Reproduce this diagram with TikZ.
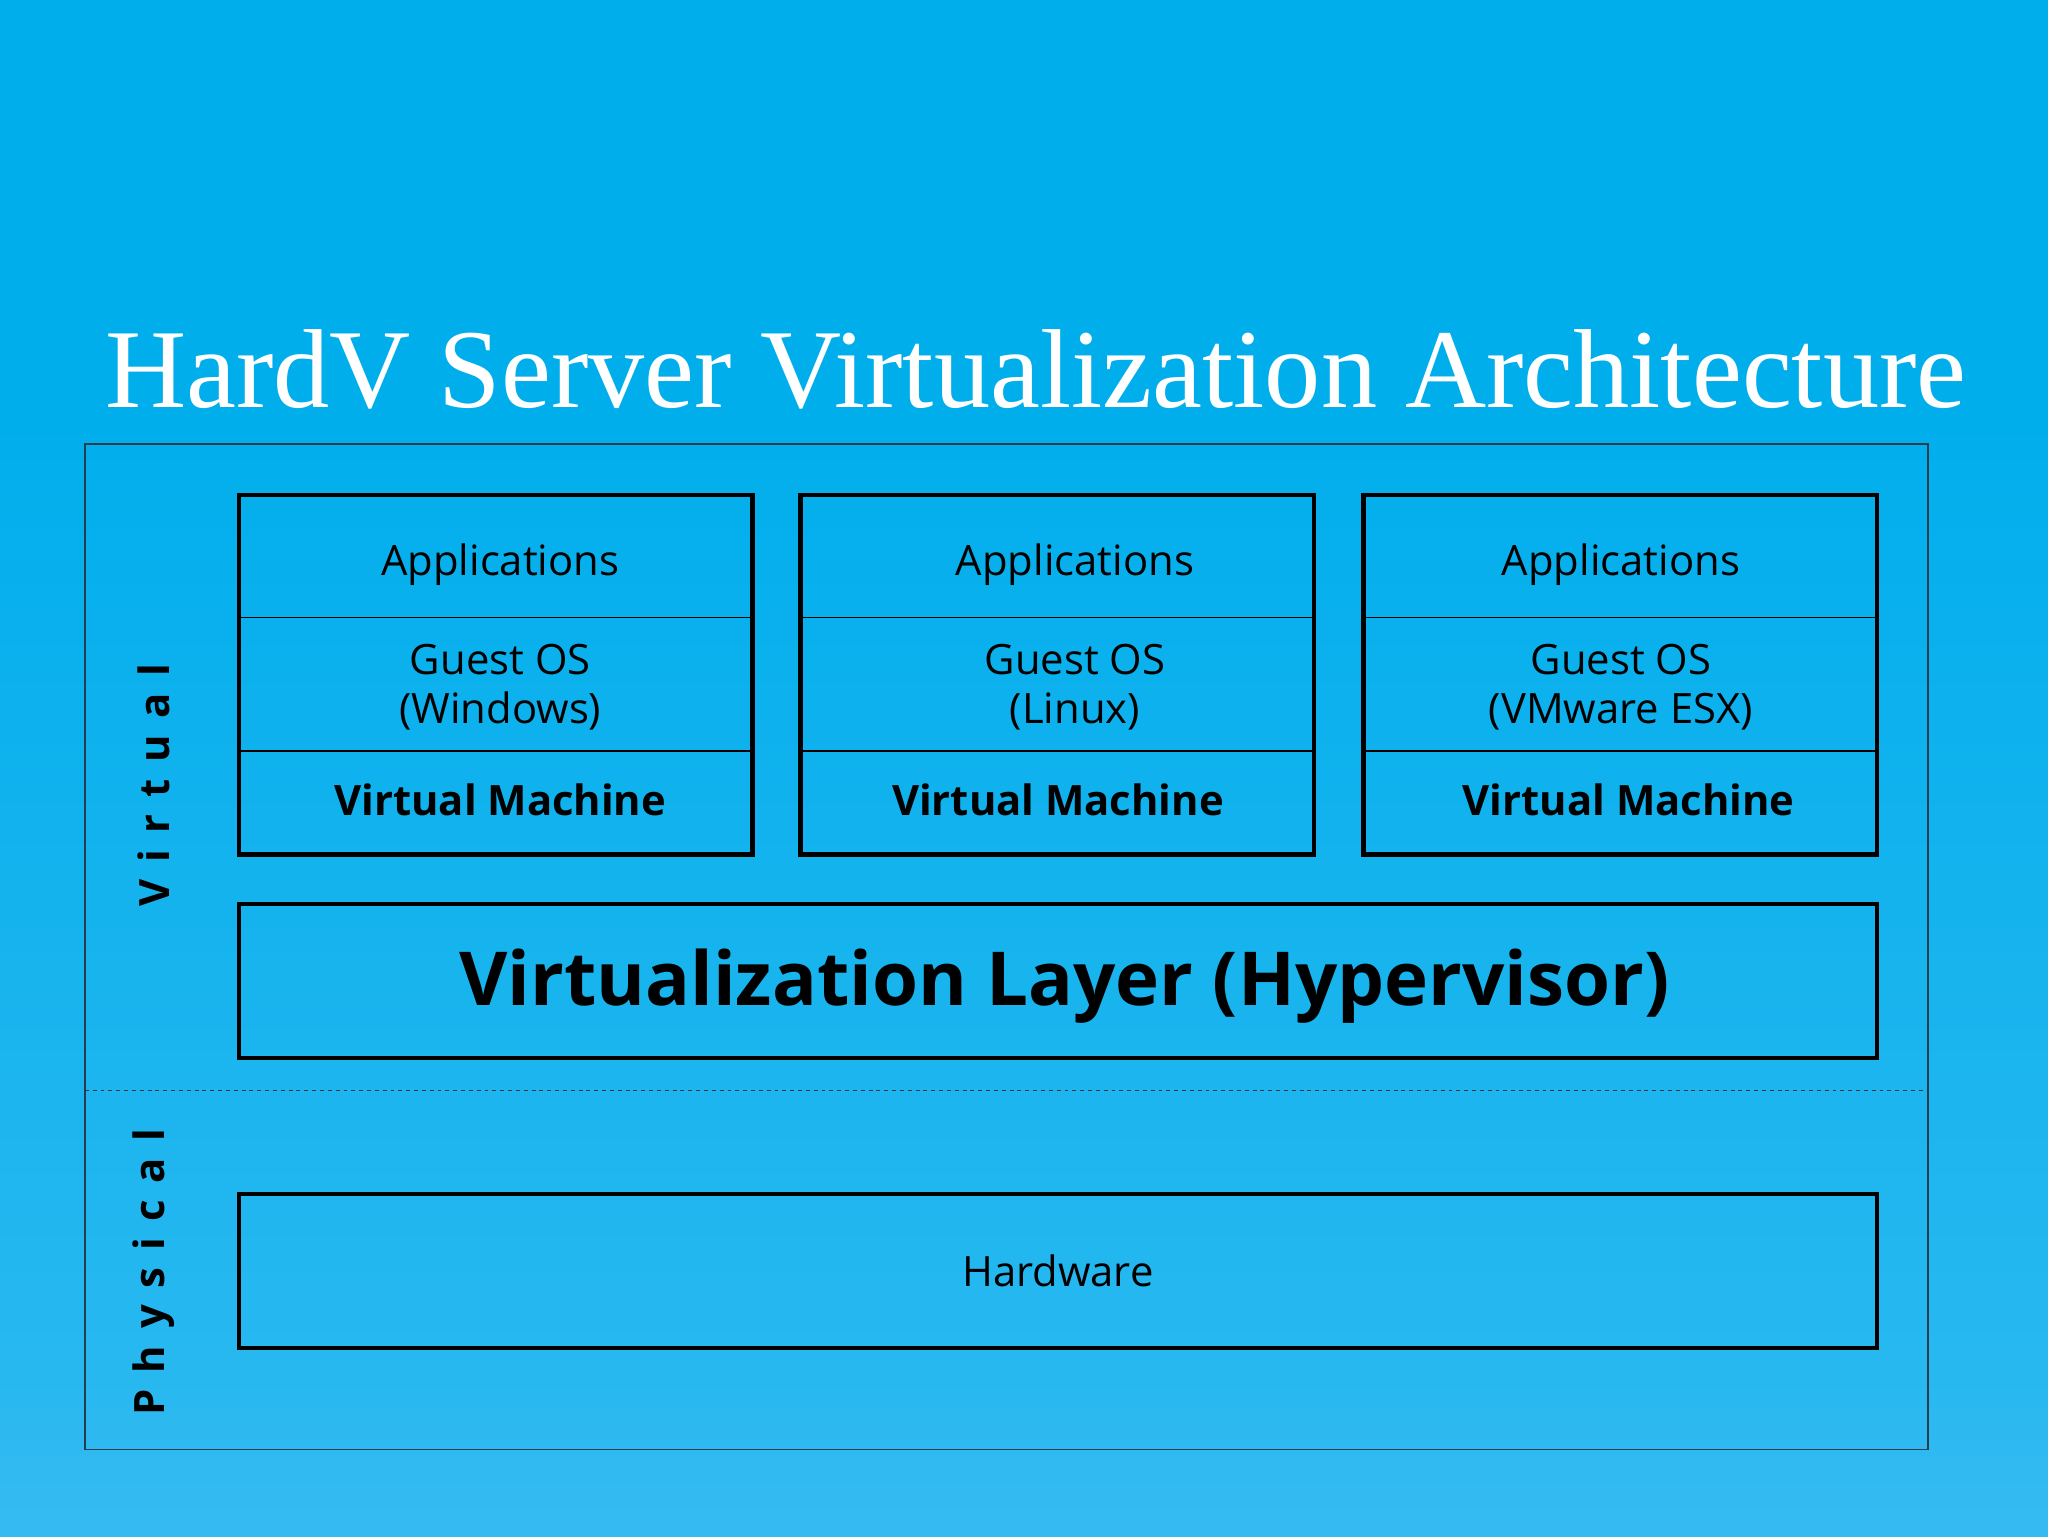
\documentclass[tikz,border=0pt]{standalone}
\usepackage{fontspec}
\setmainfont{Open Sans}
\newfontfamily\titlefont{Liberation Serif}
\newfontfamily\spacedfont[LetterSpace=40]{Open Sans Bold}
\definecolor{bgtop}{RGB}{0,174,236}
\definecolor{bgmid}{RGB}{40,184,240}
\definecolor{bgbot}{RGB}{125,203,248}
\pgfdeclareverticalshading{bgshade}{100bp}{
  color(0bp)=(bgbot); color(30bp)=(bgmid); color(62bp)=(bgtop); color(100bp)=(bgtop)}
\begin{document}
\begin{tikzpicture}[x=1pt,y=-1pt,
  box/.style={draw=black,line width=3.5pt},
  txt/.style={font=\fontsize{32}{38}\selectfont,align=center,text=black},
  bold/.style={font=\bfseries\fontsize{32}{38}\selectfont,text=black}]
\shade[shading=bgshade] (0,0) rectangle (1568,1176);
\useasboundingbox (0,0) rectangle (1568,1176);
\node[text=white,font=\titlefont\fontsize{86}{90}\selectfont] (title) at (793,283) {HardV Server Virtualization Architecture};
\draw[draw={rgb,255:red,40;green,60;blue,80},line width=1pt] (65,340) rectangle (1476,1110);
\coordinate (dl) at (65,835); \coordinate (dr) at (1476,835);
\draw[dashed,line width=1pt,black!80] (dl) -- (dr);
\foreach \x/\os/\i/\dx/\vx in {183/(Windows)/a/200/200,613/(Linux)/b/210/197,1044/(VMware ESX)/c/197/203}{
  \draw[box] (\x,379) rectangle (\x+393,654);
  \draw[line width=1pt] (\x,473) -- (\x+393,473);
  \draw[line width=1pt] (\x,575) -- (\x+393,575);
  \node[txt] (app\i) at (\x+\dx,432) {Applications};
  \node[txt] (os\i) at (\x+\dx,526) {Guest OS\\\os};
  \node[bold] (vm\i) at (\x+\vx,612) {Virtual Machine};
}
\draw[box] (183,692) rectangle (1437,810);
\node[font=\bfseries\fontsize{57}{64}\selectfont,text=black] (hyp) at (815,755) {Virtualization Layer (Hypervisor)};
\draw[box] (183,914) rectangle (1437,1032);
\node[txt] (hw) at (810,973) {Hardware};
\node[rotate=90,font=\spacedfont\fontsize{32}{36}\selectfont,text=black] (virt) at (118,601) {Virtual};
\node[rotate=90,font=\spacedfont\fontsize{32}{36}\selectfont,text=black] (phys) at (118,974) {Physical};
\end{tikzpicture}
\end{document}
